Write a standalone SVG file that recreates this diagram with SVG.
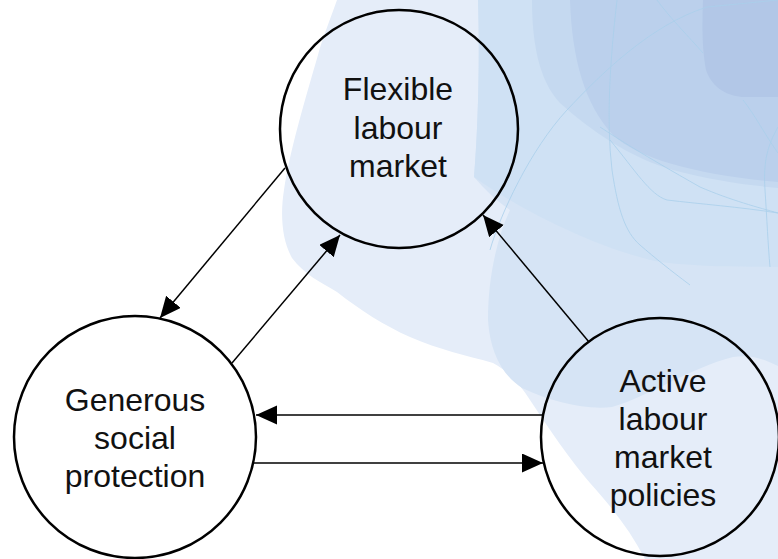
<svg xmlns="http://www.w3.org/2000/svg" width="778" height="559" viewBox="0 0 778 559">
<style>
.node{fill:none;stroke:#000;stroke-width:2.5}
.lbl{font-family:"Liberation Sans",Arial,sans-serif;font-size:32px;fill:#111;text-anchor:middle}
.conn{stroke:#000;stroke-width:1.5;fill:none;marker-end:url(#ah)}
.thin{fill:none;stroke:#A9CFEB;stroke-width:0.8}
</style>
<defs>
<marker id="ah" markerUnits="userSpaceOnUse" markerWidth="22" markerHeight="20" refX="21" refY="9.5" orient="auto">
<path d="M0,0 L21,9.5 L0,19 Z" fill="#000"/>
</marker>
</defs>
<rect width="778" height="559" fill="#fff"/>
<g id="background">
<path fill="#E5EDF9" d="M337,0 C 328,25 322,40 318,55 C 305,100 290,150 284,190 C 280,215 282,240 292,258 C 305,275 320,282 337,292 C 360,310 385,326 410,337 C 440,350 465,355 493,363 C 510,372 520,385 530,400 C 550,430 570,460 590,483 C 610,505 630,530 645,559 L778,559 L778,0 Z"/>
<path fill="#D6E4F5" d="M478,0 C 480,60 478,130 474,177 C 485,190 498,202 510,210 C 496,240 488,280 488,320 C 490,352 502,375 522,388 C 552,402 585,410 612,407 C 650,396 690,368 733,357 C 752,354 766,360 778,366 L778,0 Z"/>
<path fill="#CFE1F4" d="M478,0 C 480,60 478,130 474,177 C 520,210 600,250 660,262 C 710,268 750,266 778,267 L778,0 Z"/>
<path fill="#C5D9F0" d="M532,0 C 532,40 538,80 560,103 C 590,130 630,158 673,170 C 710,180 745,185 778,188 L778,0 Z"/>
<path fill="#BBD0EC" d="M570,0 C 572,60 585,105 613,135 C 640,160 700,175 778,182 L778,0 Z"/>
<path fill="#B2C7E7" d="M703,0 C 702,25 702,50 706,70 C 712,88 728,97 745,97 L778,97 L778,0 Z"/>
<path class="thin" d="M490,250 C 500,215 530,150 567,110 C 600,75 650,25 707,7 L778,0"/>
<path class="thin" d="M617,0 C 610,60 606,120 612,170 C 618,210 625,232 640,245 C 655,258 670,270 690,285"/>
<path class="thin" d="M657,0 C 670,18 690,38 703,53"/>
<path class="thin" d="M600,127 C 620,140 640,153 700,187 C 730,200 760,208 778,213"/>
<path class="thin" d="M610,140 C 635,170 650,195 667,200 C 700,204 740,207 778,213"/>
<path class="thin" d="M778,127 C 768,145 763,160 765,190 C 767,220 768,245 770,267"/>
<path class="thin" d="M743,100 C 755,115 765,135 778,153"/>
</g>
<g id="connectors">
<line class="conn" x1="285" y1="168" x2="160" y2="318"/>
<line class="conn" x1="232" y1="363" x2="340" y2="235"/>
<line class="conn" x1="589" y1="342" x2="483" y2="215"/>
<line class="conn" x1="543" y1="415" x2="256" y2="415"/>
<line class="conn" x1="254" y1="463" x2="543" y2="463"/>
</g>
<g id="flexible">
<circle class="node" cx="399" cy="129" r="119"/>
<text class="lbl" x="398" y="100">Flexible</text>
<text class="lbl" x="398" y="139">labour</text>
<text class="lbl" x="398" y="177">market</text>
</g>
<g id="generous">
<circle class="node" cx="135" cy="437" r="121"/>
<text class="lbl" x="135" y="411">Generous</text>
<text class="lbl" x="135" y="449">social</text>
<text class="lbl" x="135" y="487">protection</text>
</g>
<g id="active">
<circle class="node" cx="660" cy="437" r="119"/>
<text class="lbl" x="663" y="392">Active</text>
<text class="lbl" x="663" y="430">labour</text>
<text class="lbl" x="663" y="468">market</text>
<text class="lbl" x="663" y="506">policies</text>
</g>
</svg>
